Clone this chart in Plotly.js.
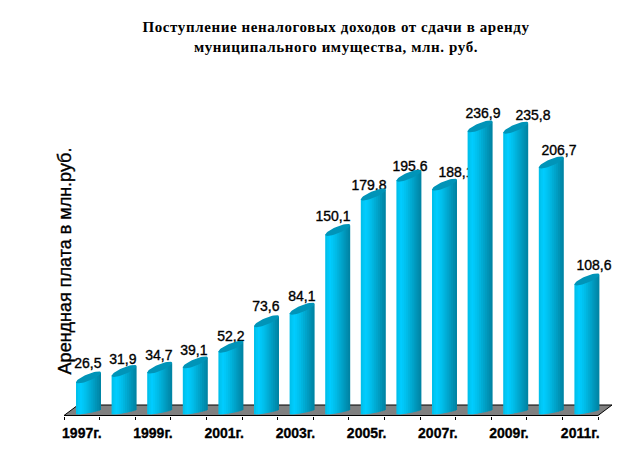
<!DOCTYPE html>
<html><head><meta charset="utf-8">
<script src="https://cdn.plot.ly/plotly-3.0.1.min.js"></script>
<style>html,body{margin:0;padding:0;background:#fff}.gtitle{letter-spacing:0.6px}
.bartext text,text.bartext,.ytitle{stroke:#000;stroke-width:0.35px}
.xtick text{stroke:#000;stroke-width:0.3px}</style></head>
<body><div id="chart" style="width:642px;height:463px"></div>
<script>
// ---- data ----
const categories = ['1997г.','1998г.','1999г.','2000г.','2001г.','2002г.','2003г.','2004г.','2005г.','2006г.','2007г.','2008г.','2009г.','2010г.','2011г.'];
const values = [26.5,31.9,34.7,39.1,52.2,73.6,84.1,150.1,179.8,195.6,188.1,236.9,235.8,206.7,108.6];
const labels = ['26,5','31,9','34,7','39,1','52,2','73,6','84,1','150,1','179,8','195,6','188,1','236,9','235,8','206,7','108,6'];
const labelCenterPx = [88,123,159,194,231,266,302,333,369,410,456,483,533,559,594];
const labelLiftPx = [16,14,15,14,13,17,15,16,12,12,15,15,15,14,16];
const shades = ['#00c0ec','#00c8f6','#00ccff','#00c8f8','#00c2f0','#00bce8','#00b4de','#00acd4','#00a4cb','#009cc1','#0094b7','#008cae','#0085a5'];

// ---- geometry (chart scale) ----
const W=642,H=463,L=40,R=630,T=106,B=416;
const stepPx=35.6, firstPx=81.8, pxPerUnit=1.193, zeroPx=409;
const barOff=6.7/stepPx, halfBar=12.5/stepPx;
const u=p=>p/pxPerUnit, c=p=>p/stepPx;
const xr=[(L-firstPx)/stepPx,(R-firstPx)/stepPx];
const yr=[(zeroPx-B)/pxPerUnit,(zeroPx-T)/pxPerUnit];
const idx=categories.map((_,i)=>i);
const topRise=4.85, botRise=2.35, botCenter=2.6, capB=3.5, botB=1.4;

const traces=[];
// labels belong to a first, invisible bar trace so later bars may cover them
traces.push({type:'bar',x:labelCenterPx.map(p=>(p-firstPx)/stepPx),
  y:values.map((v,i)=>v+u(labelLiftPx[i]-10)),width:0.1,
  marker:{color:'rgba(0,0,0,0)',line:{width:0}},
  text:labels,textposition:'outside',constraintext:'none',cliponaxis:false,textangle:0,
  textfont:{family:'"Liberation Sans",Arial,sans-serif',size:14,color:'#000'},hoverinfo:'skip'});
// cylinder bodies, one vertical shade strip per trace
const n=shades.length, w=2*halfBar/n;
shades.forEach((col,k)=>{
  const mid=-1+(2*k+1)/n;
  const base=u(-botCenter+botRise*mid-botB*Math.sqrt(1-mid*mid));
  traces.push({type:'bar',x:idx,y:values.map(v=>v+u(topRise*mid)-base),base:base,
    offset:barOff-halfBar+k*w,width:k<n-1?w+c(1):w,
    marker:{color:col,line:{width:0}},hoverinfo:'skip'});
});
// cap ellipses
const cx=[],cy=[];
values.forEach((v,i)=>{
  for(let a=0;a<=40;a++){const t=a/40*2*Math.PI,m=Math.cos(t);
    cx.push(i+barOff+halfBar*m);cy.push(v+u(topRise*m+capB*Math.sin(t)));}
  cx.push(null);cy.push(null);
});
traces.push({type:'scatter',mode:'lines',x:cx,y:cy,fill:'toself',fillcolor:'#0094b8',line:{width:0,color:'#0094b8'},hoverinfo:'skip'});

const fx0=-0.5,fx1=14.5,dxBack=c(14),yF=u(zeroPx-415.5),yB=u(zeroPx-405);
const layout={width:W,height:H,paper_bgcolor:'#fff',plot_bgcolor:'#fff',showlegend:false,barmode:'overlay',
  margin:{l:L,r:W-R,t:T,b:H-B,pad:0},
  title:{text:'Поступление неналоговых доходов от сдачи в аренду<br>муниципального имущества, млн. руб.',
    font:{family:'"Liberation Serif","Times New Roman",serif',size:15,color:'#000',weight:'bold'},
    x:336/W,xanchor:'center',y:1-32/H,yanchor:'middle',xref:'container',yref:'container'},
  xaxis:{type:'linear',range:xr,showgrid:false,zeroline:false,showline:false,ticks:'',ticklabelstandoff:7,
    tickmode:'array',tickvals:idx.filter(i=>i%2==0),ticktext:categories.filter((_,i)=>i%2==0),
    tickfont:{family:'"Liberation Sans",Arial,sans-serif',size:14,color:'#000',weight:'bold'},
    minor:{tickmode:'array',tickvals:idx.concat([15]).map(i=>i-0.5),ticks:'outside',ticklen:3,tickwidth:1,tickcolor:'#000',showgrid:false}},
  yaxis:{range:yr,showgrid:false,zeroline:false,showline:false,ticks:'',showticklabels:false,
    anchor:'free',position:43/W,
    title:{text:'Арендная плата в млн.руб.',standoff:2,font:{family:'"Liberation Sans",Arial,sans-serif',size:18,color:'#000'}}},
  shapes:[{type:'path',layer:'below',xref:'x',yref:'y',
    path:`M${fx0},${yF}L${fx0+dxBack},${yB}L${fx1+dxBack},${yB}L${fx1},${yF}Z`,
    fillcolor:'#808080',line:{color:'#000',width:1}}]
};
Plotly.newPlot('chart',traces,layout,{displayModeBar:false,staticPlot:true});
</script></body></html>
